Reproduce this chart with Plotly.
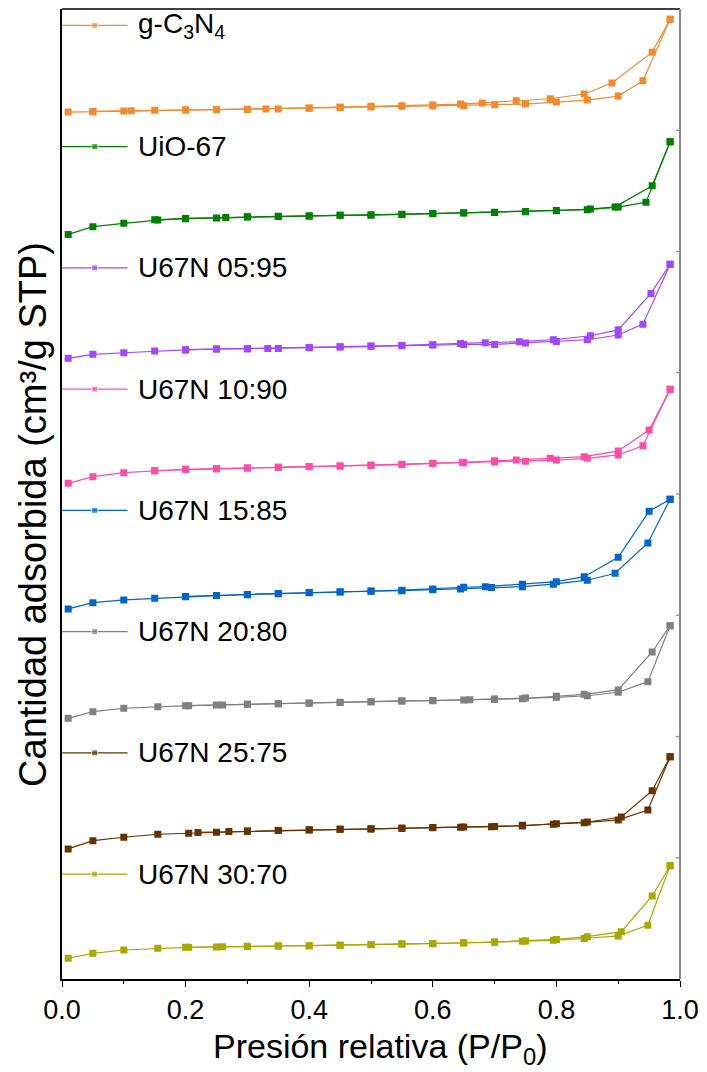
import plotly.graph_objects as go

# ---- N2 isotherms (relative pressure vs adsorbed amount, each sample in its own stacked panel) ----
SAMPLES = [
    "g-C<sub>3</sub>N<sub>4</sub>", "UiO-67", "U67N 05:95", "U67N 10:90",
    "U67N 15:85", "U67N 20:80", "U67N 25:75", "U67N 30:70",
]
COLORS = ["#F28A30", "#008000", "#A347FF", "#FF4DA6",
          "#0066CC", "#808080", "#663300", "#A8A800"]

# g-C3N4
gcn_x_ads = [0.01, 0.05, 0.1, 0.15, 0.2, 0.25, 0.3, 0.35, 0.4, 0.45, 0.5, 0.55, 0.6, 0.65, 0.7, 0.75, 0.8, 0.85, 0.9, 0.94, 0.984]
gcn_q_ads = [15.0, 15.3, 15.9, 16.4, 16.7, 16.9, 17.2, 17.5, 18.2, 18.8, 19.2, 19.7, 20.0, 20.2, 21.1, 21.6, 23.3, 24.9, 28.2, 40.8, 91.5]
gcn_x_des = [0.984, 0.955, 0.89, 0.845, 0.79, 0.735, 0.68, 0.645, 0.6, 0.55, 0.5, 0.45, 0.4, 0.33, 0.3, 0.25, 0.2, 0.112, 0.05]
gcn_q_des = [91.5, 64.4, 38.9, 29.9, 26.0, 24.3, 22.5, 21.6, 20.9, 20.2, 19.7, 19.1, 18.4, 17.6, 17.4, 17.1, 16.8, 16.1, 15.5]

# UiO-67
uio_x_ads = [0.01, 0.05, 0.1, 0.155, 0.2, 0.25, 0.3, 0.35, 0.4, 0.45, 0.5, 0.55, 0.6, 0.65, 0.7, 0.75, 0.8, 0.85, 0.9, 0.945, 0.984]
uio_q_ads = [14.1, 20.5, 23.2, 25.9, 27.1, 27.7, 28.5, 28.9, 29.2, 29.8, 30.0, 30.6, 31.2, 31.7, 32.2, 32.8, 33.6, 34.5, 36.6, 40.7, 90.6]
uio_x_des = [0.984, 0.955, 0.895, 0.855, 0.8, 0.75, 0.7, 0.65, 0.6, 0.55, 0.5, 0.45, 0.4, 0.35, 0.3, 0.265, 0.2, 0.15]
uio_q_des = [90.6, 54.2, 36.8, 35.0, 33.8, 33.0, 32.4, 31.9, 31.3, 30.7, 30.1, 29.9, 29.3, 29.0, 28.7, 28.0, 27.3, 26.1]

# U67N 05:95
n05_x_ads = [0.01, 0.05, 0.1, 0.15, 0.2, 0.25, 0.3, 0.35, 0.4, 0.45, 0.5, 0.55, 0.6, 0.65, 0.7, 0.75, 0.8, 0.85, 0.9, 0.94, 0.984]
n05_q_ads = [11.9, 15.2, 16.5, 17.9, 18.8, 19.6, 19.8, 19.9, 20.6, 21.2, 21.8, 22.3, 22.9, 23.3, 23.4, 24.5, 25.7, 27.2, 31.1, 40.1, 89.5]
n05_x_des = [0.984, 0.953, 0.9, 0.855, 0.795, 0.74, 0.685, 0.645, 0.6, 0.55, 0.5, 0.45, 0.4, 0.333, 0.3, 0.25, 0.2]
n05_q_des = [89.5, 65.4, 35.4, 30.5, 27.2, 25.6, 24.8, 24.1, 23.1, 22.5, 22.0, 21.4, 20.8, 20.0, 19.8, 19.6, 19.0]

# U67N 10:90
n10_x_ads = [0.01, 0.05, 0.1, 0.15, 0.2, 0.25, 0.3, 0.35, 0.4, 0.45, 0.5, 0.55, 0.6, 0.65, 0.7, 0.75, 0.8, 0.85, 0.9, 0.94, 0.984]
n10_q_ads = [8.8, 14.3, 17.6, 19.2, 20.4, 20.9, 21.4, 22.0, 22.5, 23.1, 23.7, 24.3, 25.2, 25.8, 26.4, 27.0, 28.0, 29.4, 32.2, 39.8, 86.4]
n10_x_des = [0.984, 0.95, 0.9, 0.845, 0.79, 0.735, 0.7, 0.648, 0.6, 0.55, 0.5, 0.45, 0.4, 0.35, 0.3, 0.25, 0.2, 0.15]
n10_q_des = [86.4, 52.8, 35.5, 30.8, 29.4, 28.0, 27.5, 26.2, 25.3, 24.5, 23.8, 23.1, 22.6, 22.0, 21.4, 20.9, 20.4, 19.2]

# U67N 15:85
n15_x_ads = [0.01, 0.05, 0.1, 0.15, 0.2, 0.25, 0.3, 0.35, 0.4, 0.45, 0.5, 0.55, 0.6, 0.645, 0.695, 0.745, 0.795, 0.85, 0.895, 0.948, 0.984]
n15_q_ads = [5.2, 10.4, 12.6, 14.0, 15.3, 16.2, 17.0, 17.8, 18.6, 19.2, 19.8, 20.3, 21.1, 21.7, 22.8, 23.6, 25.6, 28.9, 34.6, 59.6, 95.7]
n15_x_des = [0.984, 0.95, 0.9, 0.845, 0.8, 0.745, 0.685, 0.65, 0.6, 0.55, 0.5, 0.45, 0.4, 0.35, 0.3, 0.25, 0.2]
n15_q_des = [95.7, 85.8, 47.8, 31.8, 27.7, 25.6, 23.6, 23.1, 21.7, 20.7, 20.0, 19.4, 18.8, 18.0, 17.2, 16.3, 15.5]

# U67N 20:80
n20_x_ads = [0.01, 0.05, 0.1, 0.155, 0.205, 0.25, 0.3, 0.35, 0.4, 0.45, 0.5, 0.55, 0.6, 0.65, 0.7, 0.75, 0.8, 0.85, 0.9, 0.948, 0.984]
n20_q_ads = [15.0, 20.5, 23.3, 24.6, 25.4, 26.0, 26.6, 27.1, 27.6, 28.2, 28.7, 29.3, 29.5, 30.1, 30.7, 31.8, 32.3, 33.6, 36.5, 45.2, 91.4]
n20_x_des = [0.984, 0.955, 0.9, 0.845, 0.8, 0.745, 0.7, 0.66, 0.6, 0.55, 0.5, 0.45, 0.4, 0.35, 0.3, 0.26, 0.2]
n20_q_des = [91.4, 69.7, 38.4, 34.8, 33.2, 31.2, 30.9, 30.4, 29.7, 29.2, 28.6, 28.0, 27.5, 27.0, 26.5, 26.0, 25.4]

# U67N 25:75
n25_x_ads = [0.01, 0.05, 0.1, 0.155, 0.205, 0.25, 0.3, 0.35, 0.4, 0.45, 0.5, 0.55, 0.6, 0.645, 0.695, 0.745, 0.795, 0.845, 0.9, 0.948, 0.984]
n25_q_ads = [7.3, 14.1, 16.9, 19.4, 20.2, 21.0, 21.9, 22.4, 22.9, 23.5, 23.8, 24.3, 24.8, 25.2, 25.6, 26.8, 27.6, 28.9, 31.2, 39.4, 83.4]
n25_x_des = [0.984, 0.955, 0.905, 0.85, 0.8, 0.745, 0.7, 0.65, 0.6, 0.55, 0.5, 0.45, 0.4, 0.35, 0.3, 0.27, 0.22]
n25_q_des = [83.4, 55.3, 33.6, 29.5, 28.1, 26.2, 25.8, 25.3, 24.9, 24.4, 23.9, 23.6, 23.0, 22.5, 22.0, 21.6, 20.9]

# U67N 30:70
n30_x_ads = [0.01, 0.05, 0.1, 0.155, 0.205, 0.25, 0.3, 0.35, 0.4, 0.45, 0.5, 0.55, 0.6, 0.65, 0.7, 0.745, 0.795, 0.845, 0.9, 0.948, 0.984]
n30_q_ads = [17.1, 21.2, 23.9, 25.3, 26.1, 26.4, 27.0, 27.2, 27.5, 27.8, 28.3, 28.9, 29.1, 29.7, 30.3, 31.1, 31.9, 33.4, 35.5, 44.3, 93.4]
n30_x_des = [0.984, 0.955, 0.905, 0.85, 0.8, 0.75, 0.7, 0.65, 0.6, 0.55, 0.5, 0.45, 0.4, 0.35, 0.3, 0.26, 0.2]
n30_q_des = [93.4, 68.5, 39.0, 34.9, 32.6, 31.3, 30.5, 29.9, 29.3, 28.9, 28.4, 27.9, 27.5, 27.2, 26.9, 26.6, 26.2]

ADSORPTION = [
    (gcn_x_ads, gcn_q_ads), (uio_x_ads, uio_q_ads), (n05_x_ads, n05_q_ads), (n10_x_ads, n10_q_ads),
    (n15_x_ads, n15_q_ads), (n20_x_ads, n20_q_ads), (n25_x_ads, n25_q_ads), (n30_x_ads, n30_q_ads),
]
DESORPTION = [
    (gcn_x_des, gcn_q_des), (uio_x_des, uio_q_des), (n05_x_des, n05_q_des), (n10_x_des, n10_q_des),
    (n15_x_des, n15_q_des), (n20_x_des, n20_q_des), (n25_x_des, n25_q_des), (n30_x_des, n30_q_des),
]

X_TICKS = [0.0, 0.2, 0.4, 0.6, 0.8, 1.0]

# ---- layout constants ----
W, H = 707, 1072
M_L, M_R, M_T, M_B = 62, 27, 9, 93
FONT = "Liberation Sans, Arial, sans-serif"
PANEL_RANGE = [0, 100]
KEY_Y = 86.5             # height of the in-panel key inside each panel
KEY_LINE = [0.0, 0.106]  # key line extent along x
KEY_TEXT_X = 0.119

n = len(SAMPLES)
fig = go.Figure()
layout = dict(
    width=W, height=H,
    margin=dict(l=M_L, r=M_R, t=M_T, b=M_B),
    paper_bgcolor="white", plot_bgcolor="white",
    showlegend=False,
    font=dict(family=FONT, color="black"),
)

annotations = []
for i in range(n):
    suffix = "" if i == 0 else str(i + 1)
    yname = "y" + suffix
    color = COLORS[i]
    style = dict(mode="lines+markers", line=dict(color=color, width=1.2),
                 marker=dict(symbol="square", size=7, color=color),
                 xaxis="x", yaxis=yname, hoverinfo="skip")
    xa, qa = ADSORPTION[i]
    xd, qd = DESORPTION[i]
    fig.add_trace(go.Scatter(x=xa, y=qa, name=SAMPLES[i], **style))
    fig.add_trace(go.Scatter(x=xd, y=qd, name=SAMPLES[i], **style))

    # in-panel key: short line with a square in the middle, then the sample name
    fig.add_trace(go.Scatter(
        x=[KEY_LINE[0], (KEY_LINE[0] + KEY_LINE[1]) / 2, KEY_LINE[1]],
        y=[KEY_Y] * 3, mode="lines+markers",
        line=dict(color=color, width=1.2),
        marker=dict(symbol="square", size=[0, 6, 0], color=color),
        xaxis="x", yaxis=yname, hoverinfo="skip", cliponaxis=False))
    annotations.append(dict(
        x=KEY_TEXT_X, y=KEY_Y, xref="x", yref=yname, text=SAMPLES[i],
        showarrow=False, xanchor="left", yanchor="middle",
        font=dict(size=28, family=FONT, color="black")))

    layout["yaxis" + suffix] = dict(
        domain=[1 - (i + 1) / n, 1 - i / n], range=PANEL_RANGE, anchor="x",
        showgrid=False, zeroline=False, showticklabels=False, ticks="",
        showline=True, linecolor="black", linewidth=1.5, fixedrange=True)

layout["xaxis"] = dict(
    domain=[0, 1], anchor="y" + str(n), range=[0, 1.0],
    tickvals=X_TICKS, ticktext=[f"{v:.1f}" for v in X_TICKS],
    ticks="outside", ticklen=6, tickwidth=1.2, tickcolor="black",
    minor=dict(dtick=0.1, tick0=0, ticks="outside", ticklen=3, tickcolor="black", tickwidth=1),
    showline=True, linecolor="black", linewidth=1.5,
    showgrid=False, zeroline=False,
    tickfont=dict(size=27, family=FONT, color="black"),
)

# axis titles
annotations.append(dict(
    x=0.515, y=-0.072, xref="paper", yref="paper",
    text="Presión relativa (P/P<sub>0</sub>)", showarrow=False,
    xanchor="center", yanchor="middle", font=dict(size=34, family=FONT, color="black")))
annotations.append(dict(
    x=-0.046, y=0.479, xref="paper", yref="paper", textangle=-90,
    text="Cantidad adsorbida (cm³/g STP)", showarrow=False,
    xanchor="center", yanchor="middle", font=dict(size=38, family=FONT, color="black")))
layout["annotations"] = annotations

# frame: black top edge, grey right edge with a short tick at every panel boundary
tick_w = 4 / (W - M_L - M_R)
shapes = [
    dict(type="line", xref="paper", yref="paper", x0=0, x1=1, y0=1, y1=1,
         line=dict(color="black", width=1.5)),
    dict(type="line", xref="paper", yref="paper", x0=1, x1=1, y0=0, y1=1,
         line=dict(color="#888888", width=2)),
]
for k in range(1, n):
    shapes.append(dict(type="line", xref="paper", yref="paper", x0=1 - tick_w, x1=1,
                       y0=k / n, y1=k / n, line=dict(color="#888888", width=1.2)))
layout["shapes"] = shapes

fig.update_layout(**layout)
fig.write_html("out.html")
